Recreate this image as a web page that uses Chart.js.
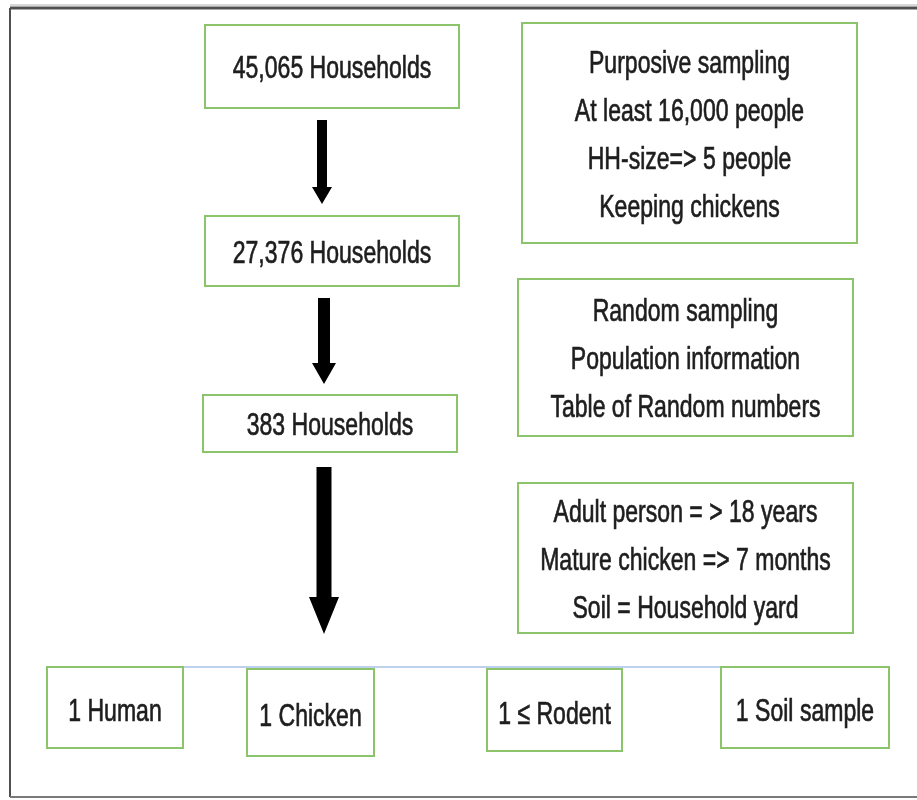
<!DOCTYPE html>
<html>
<head>
<meta charset="utf-8">
<script src="https://cdn.jsdelivr.net/npm/chart.js@4.4.1/dist/chart.umd.min.js"></script>
<style>
body{margin:0;background:#fff;}
#wrap{width:917px;height:800px;}
</style>
</head>
<body>
<div id="wrap"><canvas id="flow" width="917" height="800"></canvas></div>
<script>
// box texts, one array per column of the flow
const mainSteps=["45,065 Households","27,376 Households","383 Households"];
const criteria=[
["Purposive sampling","At least 16,000 people","HH-size=> 5 people","Keeping chickens"],
["Random sampling","Population information","Table of Random numbers"],
["Adult person = > 18 years","Mature chicken => 7 months","Soil = Household yard"]
];
const samples=["1 Human","1 Chicken","1 \u2264 Rodent","1 Soil sample"];

// layout in axis units (x 0-917, y 0-800 from top)
const mainBoxes=[[205,25,254,83],[205,216,254,70],[203,395,254,57]];
const critBoxes=[[522,23,335,220],[518,279,335,157],[518,483,335,150]];
const sampleBoxes=[[47,667,136,81],[247,669,127,87],[487,669,135,82],[721,667,168,81]];
const arrows=[[322,120,204,10,20,17],[324,298,384,12,24,21],[324,467,634,15,30,37]];
const connector=[[183,667],[721,667]];

const green="#8cc46c";
const textCol="#1e1e1e";
const squeeze=0.72;

function allBoxes(){
let list=[];
mainBoxes.forEach((b,i)=>list.push({b:b,lines:[mainSteps[i]],dy:2}));
critBoxes.forEach((b,i)=>list.push({b:b,lines:criteria[i],dy:2}));
sampleBoxes.forEach((b,i)=>list.push({b:b,lines:[samples[i]],dy:4}));
return list;
}

const flowPlugin={
id:"flow",
afterDatasetsDraw(chart){
const ctx=chart.ctx;
const sx=chart.scales.x, sy=chart.scales.y;
const px=v=>sx.getPixelForValue(v);
const py=v=>sy.getPixelForValue(v);

ctx.save();

// outer frame
ctx.strokeStyle="#d8d8d8";
ctx.lineWidth=2;
ctx.beginPath();ctx.moveTo(px(10),py(5));ctx.lineTo(px(917),py(5));ctx.stroke();
ctx.strokeStyle="#505050";
ctx.lineWidth=3;
ctx.beginPath();ctx.moveTo(px(10),py(8));ctx.lineTo(px(917),py(8));ctx.stroke();
ctx.lineWidth=2;
ctx.beginPath();ctx.moveTo(px(10),py(8));ctx.lineTo(px(10),py(797));ctx.stroke();
ctx.strokeStyle="#7a7a7a";
ctx.beginPath();ctx.moveTo(px(10),py(797));ctx.lineTo(px(917),py(797));ctx.stroke();

// arrows
ctx.fillStyle="#000";
arrows.forEach(a=>{
let [cx,y0,y1,sw,hw,hl]=a;
ctx.beginPath();
ctx.moveTo(px(cx-sw/2),py(y0));
ctx.lineTo(px(cx+sw/2),py(y0));
ctx.lineTo(px(cx+sw/2),py(y1-hl));
ctx.lineTo(px(cx+hw/2),py(y1-hl));
ctx.lineTo(px(cx),py(y1));
ctx.lineTo(px(cx-hw/2),py(y1-hl));
ctx.lineTo(px(cx-sw/2),py(y1-hl));
ctx.closePath();
ctx.fill();
});

// boxes and texts
allBoxes().forEach(item=>{
let [x,y,w,h]=item.b;
ctx.fillStyle="#fff";
ctx.fillRect(px(x),py(y),px(x+w)-px(x),py(y+h)-py(y));
ctx.strokeStyle=green;
ctx.lineWidth=2;
ctx.strokeRect(px(x),py(y),px(x+w)-px(x),py(y+h)-py(y));

let n=item.lines.length;
let step=48;
let cy=y+h/2-(n-1)*step/2+item.dy;
ctx.fillStyle=textCol;
ctx.strokeStyle=textCol;
ctx.lineWidth=0.7;
ctx.font="32px 'Liberation Sans', Arial, sans-serif";
ctx.textAlign="center";
ctx.textBaseline="middle";
item.lines.forEach((t,i)=>{
ctx.save();
ctx.translate(px(x+w/2),py(cy+i*step)+1);
ctx.scale(squeeze,1);
ctx.fillText(t,0,0);
ctx.strokeText(t,0,0);
ctx.restore();
});
});

ctx.restore();
}
};

let centres=allBoxes().map(o=>({x:o.b[0]+o.b[2]/2,y:o.b[1]+o.b[3]/2}));

new Chart(document.getElementById("flow"),{
type:"scatter",
data:{
datasets:[
{label:"connector",type:"line",data:connector.map(p=>({x:p[0],y:p[1]})),borderColor:"#a9c2e6",borderWidth:1.5,pointRadius:0,fill:false},
{label:"boxes",data:centres,pointRadius:0,showLine:false}
]
},
options:{
responsive:false,
animation:false,
layout:{padding:0},
plugins:{legend:{display:false},tooltip:{enabled:false}},
scales:{
x:{type:"linear",min:0,max:917,display:false},
y:{type:"linear",min:0,max:800,reverse:true,display:false}
}
},
plugins:[flowPlugin]
});
</script>
</body>
</html>
